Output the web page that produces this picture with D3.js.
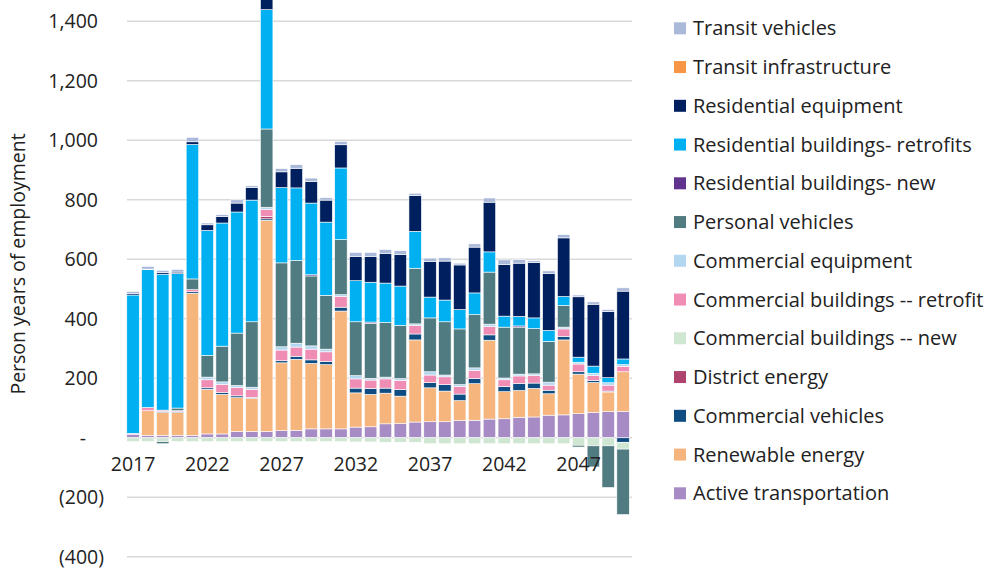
<!DOCTYPE html>
<html>
<head>
<meta charset="utf-8">
<script src="https://cdn.jsdelivr.net/npm/d3@7"></script>
<style>
  body { margin: 0; background: #fff; }
  svg { display: block; }
  text { font-family: "Open Sans", "Noto Sans", sans-serif; font-weight: 400; fill: #222; }
</style>
</head>
<body>
<svg id="chart" width="997" height="569"></svg>
<script>
// ---------- DATA ----------
const years = ["2017","2018","2019","2020","2021","2022","2023","2024","2025","2026",
  "2027","2028","2029","2030","2031","2032","2033","2034","2035","2036",
  "2037","2038","2039","2040","2041","2042","2043","2044","2045","2046",
  "2047","2048","2049","2050"];

const activeTransportation = [12,8,8,8,8,13,13,21,21,21,24,25,30,30,30,36,37,47,48,53,54,54,58,59,63,64,69,70,76,77,81,85,88,88];
const renewableEnergy      = [0,83,77,77,478,150,133,114,112,710,228,239,220,216,396,115,109,103,92,276,114,103,67,123,265,91,90,96,72,252,133,101,66,134];
const commercialVehicles   = [0,0,3,3,5,5,6,6,3,5,7,10,12,11,13,16,20,17,22,20,18,22,22,17,18,17,24,18,12,12,8,6,3,-15];
const districtEnergy       = [0,0,0,0,0,0,0,0,0,8,0,0,0,0,0,0,0,0,0,0,0,0,0,0,0,0,0,0,0,0,0,0,0,0];
const commercialBldgNew    = [-13,-13,-13,-13,-13,-13,-13,-13,-13,-13,-13,-13,-13,-13,-13,-14,-14,-15,-15,-15,-20,-20,-20,-20,-20,-20,-20,-20,-20,-20,-25,-27,-27,-23];
const commercialBldgRetro  = [3,11,5,3,7,27,28,28,27,24,36,31,36,32,36,31,28,31,31,28,25,26,25,28,28,23,25,25,17,25,26,17,20,18];
const commercialEquipment  = [0,0,0,0,0,9,8,7,7,7,11,13,11,9,6,11,6,6,6,6,11,6,7,8,8,6,6,6,10,6,6,8,8,6];
const personalVehicles     = [0,0,-7,9,36,73,120,176,220,263,282,278,235,181,185,181,185,184,179,187,181,179,187,179,175,171,158,152,137,73,-6,-71,-140,-220];
const residentialBldgNew   = [0,0,0,0,0,0,0,0,0,0,0,0,4,0,0,0,4,0,0,0,0,0,0,0,0,0,4,0,0,0,0,0,0,0];
const residentialBldgRetro = [465,463,457,452,452,420,414,407,409,401,253,244,241,246,241,138,134,132,132,124,70,73,65,73,68,37,32,36,37,30,17,24,17,19];
const residentialEquipment = [5,2,5,5,9,19,22,30,43,50,53,66,73,74,78,82,87,100,106,120,120,131,150,154,167,174,179,186,192,197,203,208,222,228];
const transitInfrastructure= [0,0,0,0,0,0,0,0,0,0,0,0,0,0,0,0,0,0,0,0,0,0,0,0,0,0,0,0,0,0,0,0,0,0];
const transitVehicles      = [7,9,8,9,15,6,6,11,5,10,11,12,11,8,11,13,13,13,13,8,11,11,6,11,14,15,12,6,8,11,6,8,7,11];

// stack order, bottom to top
const seriesNames = ["Active transportation","Renewable energy","Commercial vehicles","District energy",
  "Commercial buildings -- new","Commercial buildings -- retrofit","Commercial equipment","Personal vehicles",
  "Residential buildings- new","Residential buildings- retrofits","Residential equipment",
  "Transit infrastructure","Transit vehicles"];
const seriesValues = [activeTransportation, renewableEnergy, commercialVehicles, districtEnergy,
  commercialBldgNew, commercialBldgRetro, commercialEquipment, personalVehicles,
  residentialBldgNew, residentialBldgRetro, residentialEquipment, transitInfrastructure, transitVehicles];
const seriesColors = ["#a68bc4","#f7b57e","#0f4c81","#ae446e","#cfe6d2","#ef8db5","#b3d7f0","#507b80",
  "#60338f","#00b0f0","#001f5f","#f79646","#aab9d9"];

const xTickLabels = ["2017","2022","2027","2032","2037","2042","2047"];
const yTicks = [-400,-200,0,200,400,600,800,1000,1200,1400];
const yTickLabels = ["(400)","(200)","-","200","400","600","800","1,000","1,200","1,400"];
const yTitle = "Person years of employment";

// ---------- TABLE ----------
const table = years.map((yr, i) => {
  const row = { year: yr };
  seriesNames.forEach((s, k) => { row[s] = seriesValues[k][i]; });
  return row;
});

// ---------- LAYOUT ----------
const svg = d3.select("#chart");
const plotLeft = 127, plotRight = 632;
const FONT = "'Open Sans', 'Noto Sans', sans-serif";

const x = d3.scaleBand().domain(years).range([125.6, 630.5]).paddingInner(0.16).paddingOuter(0.08);
const y = d3.scaleLinear().domain([-400, 1400]).range([556.8, 21.3]);

// gridlines
svg.append("g").selectAll("line").data(yTicks).join("line")
  .attr("x1", plotLeft).attr("x2", plotRight)
  .attr("y1", d => y(d)).attr("y2", d => y(d))
  .attr("stroke", "#d9d9d9").attr("stroke-width", 1.5);

// stacked bars
const stacked = d3.stack().keys(seriesNames).offset(d3.stackOffsetDiverging)(table);
svg.append("g").selectAll("g").data(stacked).join("g")
  .attr("fill", (d, i) => seriesColors[i])
  .selectAll("rect").data(d => d.filter(p => p[1] !== p[0])).join("rect")
  .attr("x", d => x(d.data.year))
  .attr("width", x.bandwidth())
  .attr("y", d => y(Math.max(d[0], d[1])))
  .attr("height", d => Math.abs(y(d[0]) - y(d[1])))
  .attr("stroke", "#ffffff").attr("stroke-width", 0.6);

// y axis labels
const yAxis = d3.axisLeft(y).tickValues(yTicks)
  .tickFormat((d, i) => yTickLabels[i]).tickSize(0).tickPadding(0);
const yg = svg.append("g").attr("transform", "translate(98,0)").call(yAxis);
yg.select(".domain").remove();
yg.selectAll("text")
  .style("font-family", FONT).style("font-weight", 400)
  .style("font-size", "19.5px").attr("fill", "#222")
  .attr("dx", d => d < 0 ? 6 : (d === 0 ? -12 : 0));

// x axis labels
const xAxis = d3.axisBottom(x).tickValues(xTickLabels).tickSize(0).tickPadding(0);
const xg = svg.append("g").attr("transform", "translate(0,455)").call(xAxis);
xg.select(".domain").remove();
xg.selectAll("text")
  .style("font-family", FONT).style("font-weight", 400)
  .style("font-size", "19.5px").attr("fill", "#222").attr("dy", "0.8em");

// y title
svg.append("text")
  .attr("transform", "translate(25,264) rotate(-90)")
  .attr("text-anchor", "middle")
  .style("font-size", "19.5px")
  .text(yTitle);

// legend (top of stack first)
const legendOrder = d3.range(seriesNames.length).reverse();
const lg = svg.append("g").selectAll("g").data(legendOrder).join("g")
  .attr("transform", (d, i) => `translate(674,${28.3 + i * 38.75})`);
lg.append("rect").attr("x", 0).attr("y", -6).attr("width", 12).attr("height", 12)
  .attr("fill", d => seriesColors[d]);
lg.append("text").attr("x", 19).attr("y", 0).attr("dy", "0.35em")
  .style("font-size", "20px")
  .text(d => seriesNames[d]);
</script>
</body>
</html>
